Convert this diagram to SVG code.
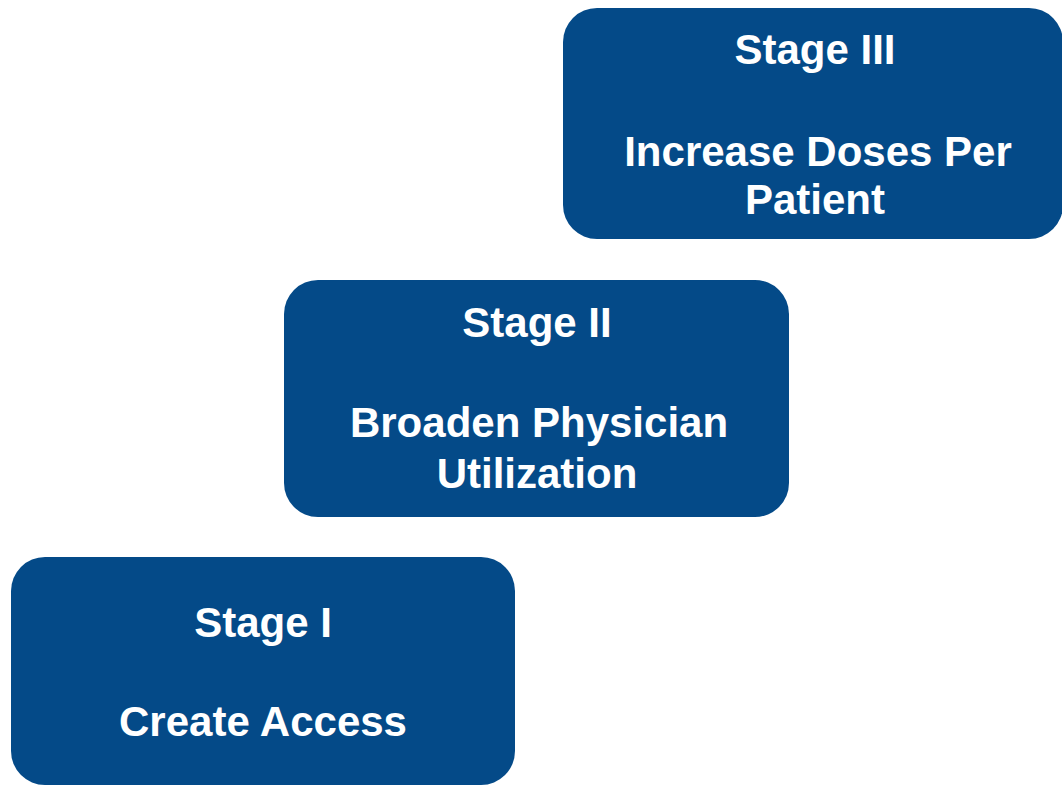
<svg xmlns="http://www.w3.org/2000/svg" width="1062" height="785" viewBox="0 0 1062 785">
  <style>
    .box { fill: #044a88; }
    .lbl { fill: #ffffff; font-family: "Liberation Sans", Arial, sans-serif; font-weight: bold; font-size: 42px; text-anchor: middle; }
  </style>
  <rect width="1062" height="785" fill="#ffffff"/>
  <g id="stage-3">
    <rect class="box" x="563" y="8" width="500" height="231" rx="34" ry="34"/>
    <text class="lbl" x="815" y="64">Stage III</text>
    <text class="lbl" x="818" y="166">Increase Doses Per</text>
    <text class="lbl" x="815" y="214">Patient</text>
  </g>
  <g id="stage-2">
    <rect class="box" x="284" y="280" width="505" height="237" rx="34" ry="34"/>
    <text class="lbl" x="537" y="337">Stage II</text>
    <text class="lbl" x="539" y="437">Broaden Physician</text>
    <text class="lbl" x="537" y="488">Utilization</text>
  </g>
  <g id="stage-1">
    <rect class="box" x="11" y="557" width="504" height="228" rx="34" ry="34"/>
    <text class="lbl" x="263" y="637">Stage I</text>
    <text class="lbl" x="263" y="736">Create Access</text>
  </g>
  <g id="connectors"/>
</svg>
